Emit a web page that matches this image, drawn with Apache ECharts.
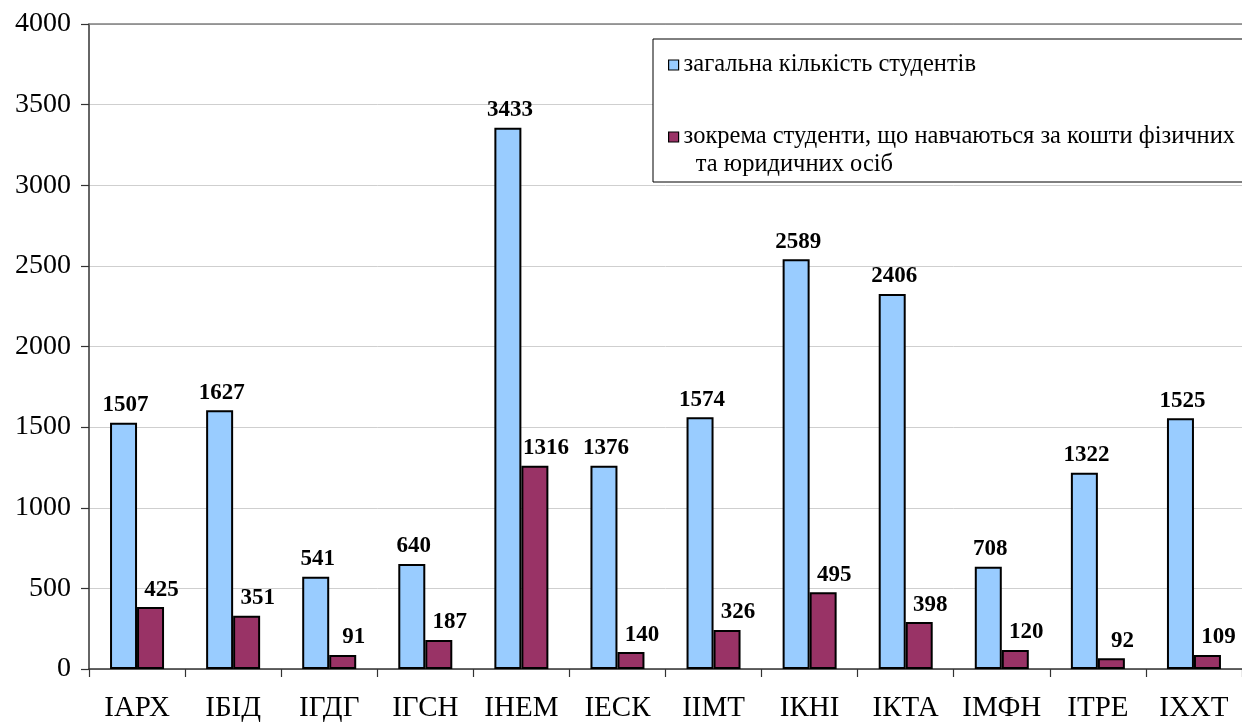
<!DOCTYPE html>
<html>
<head>
<meta charset="utf-8">
<script src="https://cdn.jsdelivr.net/npm/echarts@6/dist/echarts.min.js"></script>
<style>
html,body{margin:0;padding:0;background:#fff;}
#chart{width:1242px;height:726px;}
</style>
</head>
<body>
<div id="chart"></div>
<script>
// ---- data ----
const categories = ['ІАРХ','ІБІД','ІГДГ','ІГСН','ІНЕМ','ІЕСК','ІІМТ','ІКНІ','ІКТА','ІМФН','ІТРЕ','ІХХТ'];
// bar heights as drawn in the picture
const totalBars = [1527, 1604, 572, 651, 3357, 1261, 1561, 2541, 2326, 634, 1217, 1555];
const paidBars  = [384, 331, 87, 180, 1261, 105, 242, 476, 291, 118, 66, 87];
// value labels as printed in the picture
const totalLabels = [1507, 1627, 541, 640, 3433, 1376, 1574, 2589, 2406, 708, 1322, 1525];
const paidLabels  = [425, 351, 91, 187, 1316, 140, 326, 495, 398, 120, 92, 109];
const seriesNames = ['загальна кількість студентів', 'зокрема студенти, що навчаються за кошти фізичних'];
const seriesNameLine2 = 'та юридичних осіб';
const yTicks = [0, 500, 1000, 1500, 2000, 2500, 3000, 3500, 4000];

const FONT = '"Liberation Serif", "Times New Roman", serif';
const chart = echarts.init(document.getElementById('chart'), null, {renderer: 'canvas'});

const option = {
  backgroundColor: '#ffffff',
  animation: false,
  textStyle: {fontFamily: FONT},
  grid: {left: 89, top: 24, width: 1163, height: 645, containLabel: false},
  legend: {
    left: 653, top: 39,
    orient: 'vertical',
    align: 'left',
    backgroundColor: '#ffffff',
    borderColor: '#000000',
    borderWidth: 1,
    borderRadius: 0,
    padding: [12, 60, 3, 15],
    itemGap: 16,
    itemWidth: 10,
    itemHeight: 10,
    icon: 'rect',
    itemStyle: {borderColor: '#000', borderWidth: 1.2},
    textStyle: {fontFamily: FONT, fontSize: 24.5, color: '#000', lineHeight: 28},
    formatter: function (name) {
      if (name === seriesNames[1]) return '\n' + name + '\n  ' + seriesNameLine2;
      return name;
    },
    data: seriesNames
  },
  xAxis: [{
    type: 'category',
    data: categories,
    boundaryGap: true,
    axisLine: {show: true, lineStyle: {color: '#333', width: 1.5}},
    axisTick: {show: true, length: 8, alignWithLabel: false, lineStyle: {color: '#333', width: 1.2}},
    axisLabel: {fontFamily: FONT, fontSize: 29, color: '#000', margin: 25, interval: 0},
    splitLine: {show: false}
  }, {
    type: 'category',
    data: categories,
    position: 'top',
    axisLine: {show: true, lineStyle: {color: '#808080', width: 1.5}},
    axisTick: {show: false},
    axisLabel: {show: false},
    splitLine: {show: false}
  }],
  yAxis: {
    type: 'value',
    min: yTicks[0],
    max: yTicks[yTicks.length - 1],
    interval: yTicks[1] - yTicks[0],
    axisLine: {show: true, lineStyle: {color: '#333', width: 1.5}},
    axisTick: {show: true, length: 8, lineStyle: {color: '#333', width: 1.2}},
    axisLabel: {fontFamily: FONT, fontSize: 28, color: '#000', margin: 18, formatter: v => String(v)},
    splitLine: {show: true, lineStyle: {color: '#cfcfcf', width: 1}}
  },
  series: [
    {
      name: seriesNames[0],
      type: 'bar',
      data: totalBars,
      barWidth: 27,
      barGap: '0%',
      itemStyle: {color: '#99ccff', borderColor: '#000', borderWidth: 2},
      label: {
        show: true, position: 'top', distance: 6, offset: [2, 0],
        fontFamily: FONT, fontSize: 23, fontWeight: 'bold', color: '#000',
        formatter: p => String(totalLabels[p.dataIndex])
      }
    },
    {
      name: seriesNames[1],
      type: 'bar',
      data: paidBars,
      barWidth: 27,
      barGap: '0%',
      itemStyle: {color: '#993366', borderColor: '#000', borderWidth: 2},
      label: {
        show: true, position: 'top', distance: 6, offset: [11, 0],
        fontFamily: FONT, fontSize: 23, fontWeight: 'bold', color: '#000',
        formatter: p => String(paidLabels[p.dataIndex])
      }
    }
  ]
};
chart.setOption(option);
</script>
</body>
</html>
